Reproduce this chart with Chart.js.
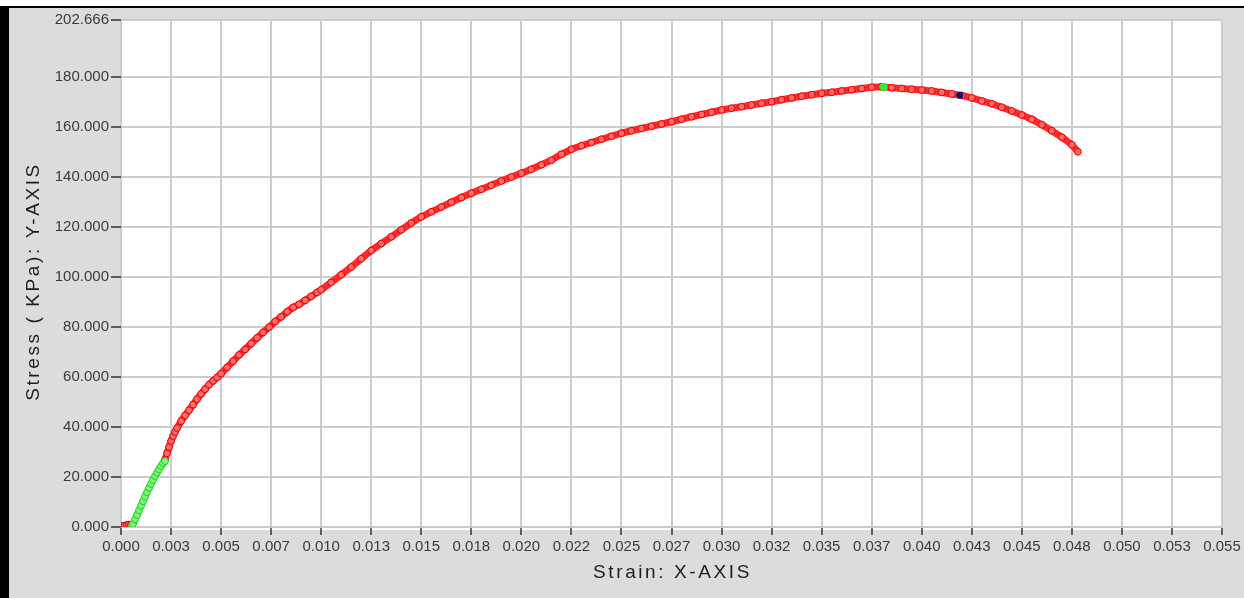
<!DOCTYPE html>
<html lang="en">
<head>
    <meta charset="utf-8">
    <title>Stress vs Strain</title>
    <script src="https://cdn.jsdelivr.net/npm/chart.js@4.4.0/dist/chart.umd.min.js"></script>
    <style>
        body {
            margin: 0;
            background: #ffffff;
        }

        .frame {
            position: absolute;
            left: 0;
            top: 6px;
            width: 1235px;
            height: 590px;
            border-left: 9px solid #000;
            border-top: 2px solid #000;
            background: #dcdcdc;
        }
    </style>
</head>
<body>
    <div class="frame">
        <canvas id="chart" width="1235" height="590"></canvas>
    </div>

    <script>
        // first few red points before the green (linear) part
        const startStrain = [0.0000, 0.0001, 0.0002, 0.0003, 0.0004, 0.0005];
        const startStress = [0.3, 0.5, 0.6, 0.8, 1.0, 0.9];

        // green section
        const greenStrain = [0.00055, 0.0006, 0.0007, 0.0008, 0.0009, 0.0010, 0.0011, 0.0012, 0.0013,
            0.0014, 0.0015, 0.0016, 0.0017, 0.0018, 0.0019, 0.0020, 0.0021, 0.0022];
        const greenStress = [0.3, 1.2, 3.0, 4.8, 6.6, 8.5, 10.3, 12.1, 13.9,
            15.6, 17.2, 18.8, 20.3, 21.7, 23.0, 24.3, 25.5, 26.3];

        // main red curve
        const redStrain = [
            0.0022, 0.0023, 0.0024, 0.0025, 0.0026, 0.0027, 0.0028, 0.0030, 0.0032, 0.0034,
            0.0036, 0.0038, 0.0040, 0.0042, 0.0044, 0.0046, 0.0048, 0.0050, 0.0053, 0.0056,
            0.0059, 0.0062, 0.0065, 0.0068, 0.0071, 0.0074, 0.0077, 0.0080, 0.0083, 0.0086,
            0.0089, 0.0092, 0.0095, 0.0098, 0.0100, 0.0105, 0.0110, 0.0115, 0.0120, 0.0125,
            0.0130, 0.0135, 0.0140, 0.0145, 0.0150, 0.0155, 0.0160, 0.0165, 0.0170, 0.0175,
            0.0180, 0.0185, 0.0190, 0.0195, 0.0200, 0.0205, 0.0210, 0.0215, 0.0220, 0.0225,
            0.0230, 0.0235, 0.0240, 0.0245, 0.0250, 0.0255, 0.0260, 0.0265, 0.0270, 0.0275,
            0.0280, 0.0285, 0.0290, 0.0295, 0.0300, 0.0305, 0.0310, 0.0315, 0.0320, 0.0325,
            0.0330, 0.0335, 0.0340, 0.0345, 0.0350, 0.0355, 0.0360, 0.0365, 0.0370, 0.0375,
            0.0380, 0.0385, 0.0390, 0.0395, 0.0400, 0.0405, 0.0410, 0.0415, 0.0420, 0.0425,
            0.0430, 0.0435, 0.0440, 0.0445, 0.0450, 0.0455, 0.0460, 0.0465, 0.0470, 0.0475,
            0.0478
        ];
        const redStress = [
            27.0, 29.5, 32.0, 34.3, 36.3, 38.0, 39.6, 42.3, 44.6, 46.7,
            48.9, 51.1, 53.2, 55.1, 56.9, 58.4, 59.8, 61.3, 63.8, 66.3,
            68.8, 71.0, 73.3, 75.6, 77.8, 79.9, 82.1, 84.0, 86.0, 87.8,
            89.0, 90.6, 92.2, 93.8, 94.8, 97.8, 100.8, 103.9, 107.2, 110.5,
            113.3, 116.0, 118.8, 121.5, 124.0, 126.0, 127.9, 129.8, 131.7, 133.4,
            135.0, 136.6, 138.3, 139.9, 141.4, 143.0, 144.8, 146.6, 149.0, 151.0,
            152.4, 153.7, 155.0, 156.2, 157.4, 158.4, 159.3, 160.2, 161.1, 162.0,
            163.0, 164.0, 164.9, 165.8, 166.7, 167.4, 168.0, 168.7, 169.4, 170.0,
            170.8, 171.5, 172.2, 172.8, 173.4, 173.8, 174.3, 174.8, 175.3, 175.8,
            176.0, 175.6, 175.3, 175.0, 174.7, 174.3, 173.7, 173.1, 172.5, 171.5,
            170.3, 169.2, 167.8, 166.3, 164.7, 163.0, 160.8, 158.4, 155.8, 152.8,
            150.0
        ];

        // single marked points
        const peakPoint = [0.0381, 175.9];
        const bluePoint = [0.0419, 172.6];

        // axes
        const xTickValues = [0, 0.0025, 0.005, 0.0075, 0.01, 0.0125, 0.015, 0.0175, 0.02, 0.0225, 0.025,
            0.0275, 0.03, 0.0325, 0.035, 0.0375, 0.04, 0.0425, 0.045, 0.0475, 0.05, 0.0525, 0.055];
        const xTickLabels = ["0.000", "0.003", "0.005", "0.007", "0.010", "0.013", "0.015", "0.018",
            "0.020", "0.022", "0.025", "0.027", "0.030", "0.032", "0.035", "0.037", "0.040", "0.043",
            "0.045", "0.048", "0.050", "0.053", "0.055"];
        const yTickValues = [0, 20, 40, 60, 80, 100, 120, 140, 160, 180, 202.666];
        const yMax = 202.666;
        const xMax = 0.055;
        const xTitle = "Strain: X-AXIS";
        const yTitle = "Stress ( KPa): Y-AXIS";

        const toPoints = (xs, ys) => xs.map((x, i) => ({ x: x, y: ys[i] }));

        const fontFamily = "'Liberation Sans', Arial, sans-serif";

        // white plot area on the grey panel
        const plotBackground = {
            id: "plotBackground",
            beforeDraw(chart) {
                const { ctx, chartArea } = chart;
                ctx.save();
                ctx.fillStyle = "#ffffff";
                ctx.fillRect(chartArea.left, chartArea.top, chartArea.right - chartArea.left, chartArea.bottom - chartArea.top + 3);
                ctx.restore();
            }
        };

        // axis titles drawn by hand: the original uses wide letter spacing
        const axisTitles = {
            id: "axisTitles",
            afterDraw(chart) {
                const { ctx, chartArea } = chart;
                ctx.save();
                ctx.font = "19px " + fontFamily;
                ctx.fillStyle = "#1e1e1e";
                ctx.letterSpacing = "2.6px";
                ctx.textAlign = "center";
                ctx.textBaseline = "middle";
                ctx.fillText(xTitle, (chartArea.left + chartArea.right) / 2 + 1, 565);
                ctx.translate(25, (chartArea.top + chartArea.bottom) / 2 + 8);
                ctx.rotate(-Math.PI / 2);
                ctx.fillText(yTitle, 0, 0);
                ctx.restore();
            }
        };

        const redStyle = {
            order: 2,
            showLine: true,
            borderColor: "#ff2a2a",
            borderWidth: 7,
            pointRadius: 3.4,
            pointBorderWidth: 1,
            pointBorderColor: "#e40000",
            pointBackgroundColor: "#ff6a6a"
        };

        new Chart(document.getElementById("chart"), {
            type: "scatter",
            plugins: [plotBackground, axisTitles],
            data: {
                datasets: [
                    Object.assign({ data: toPoints(startStrain, startStress) }, redStyle),
                    {
                        order: 1,
                        data: toPoints(greenStrain, greenStress),
                        showLine: true,
                        borderColor: "#44f044",
                        borderWidth: 7,
                        pointRadius: 3.4,
                        pointBorderWidth: 1,
                        pointBorderColor: "#22d022",
                        pointBackgroundColor: "#80f580"
                    },
                    Object.assign({ data: toPoints(redStrain, redStress) }, redStyle),
                    {
                        order: 0,
                        data: [{ x: peakPoint[0], y: peakPoint[1] }],
                        pointRadius: 4,
                        pointBorderWidth: 0,
                        pointBackgroundColor: "#33ea33"
                    },
                    {
                        order: 0,
                        data: [{ x: bluePoint[0], y: bluePoint[1] }],
                        pointRadius: 3.5,
                        pointBorderWidth: 0,
                        pointBackgroundColor: "#10107a"
                    }
                ]
            },
            options: {
                responsive: false,
                animation: false,
                layout: {
                    padding: { left: 12, right: 22, top: 12, bottom: 0 }
                },
                plugins: {
                    legend: { display: false },
                    tooltip: { enabled: false }
                },
                scales: {
                    x: {
                        type: "linear",
                        min: 0,
                        max: xMax,
                        afterBuildTicks: (scale) => {
                            scale.ticks = xTickValues.map(v => ({ value: v }));
                        },
                        afterFit: (scale) => {
                            scale.height = 71;
                        },
                        border: { color: "#c8c8c8", width: 1 },
                        grid: {
                            color: "#cccccc",
                            lineWidth: 2,
                            tickColor: "#333333",
                            tickLength: 8,
                            tickWidth: 1.5
                        },
                        ticks: {
                            autoSkip: false,
                            maxRotation: 0,
                            padding: 3,
                            color: "#3a3a3a",
                            font: { family: fontFamily, size: 15 },
                            callback: (value, index) => xTickLabels[index]
                        }
                    },
                    y: {
                        type: "linear",
                        min: 0,
                        max: yMax,
                        afterBuildTicks: (scale) => {
                            scale.ticks = yTickValues.map(v => ({ value: v }));
                        },
                        afterFit: (scale) => {
                            scale.width = 100;
                        },
                        border: { color: "#c8c8c8", width: 1 },
                        grid: {
                            color: "#cccccc",
                            lineWidth: 2,
                            tickColor: "#333333",
                            tickLength: 10,
                            tickWidth: 1.5
                        },
                        ticks: {
                            autoSkip: false,
                            padding: 2,
                            color: "#3a3a3a",
                            font: { family: fontFamily, size: 15 },
                            callback: (value) => Number(value).toFixed(3)
                        }
                    }
                }
            }
        });
    </script>
</body>
</html>
